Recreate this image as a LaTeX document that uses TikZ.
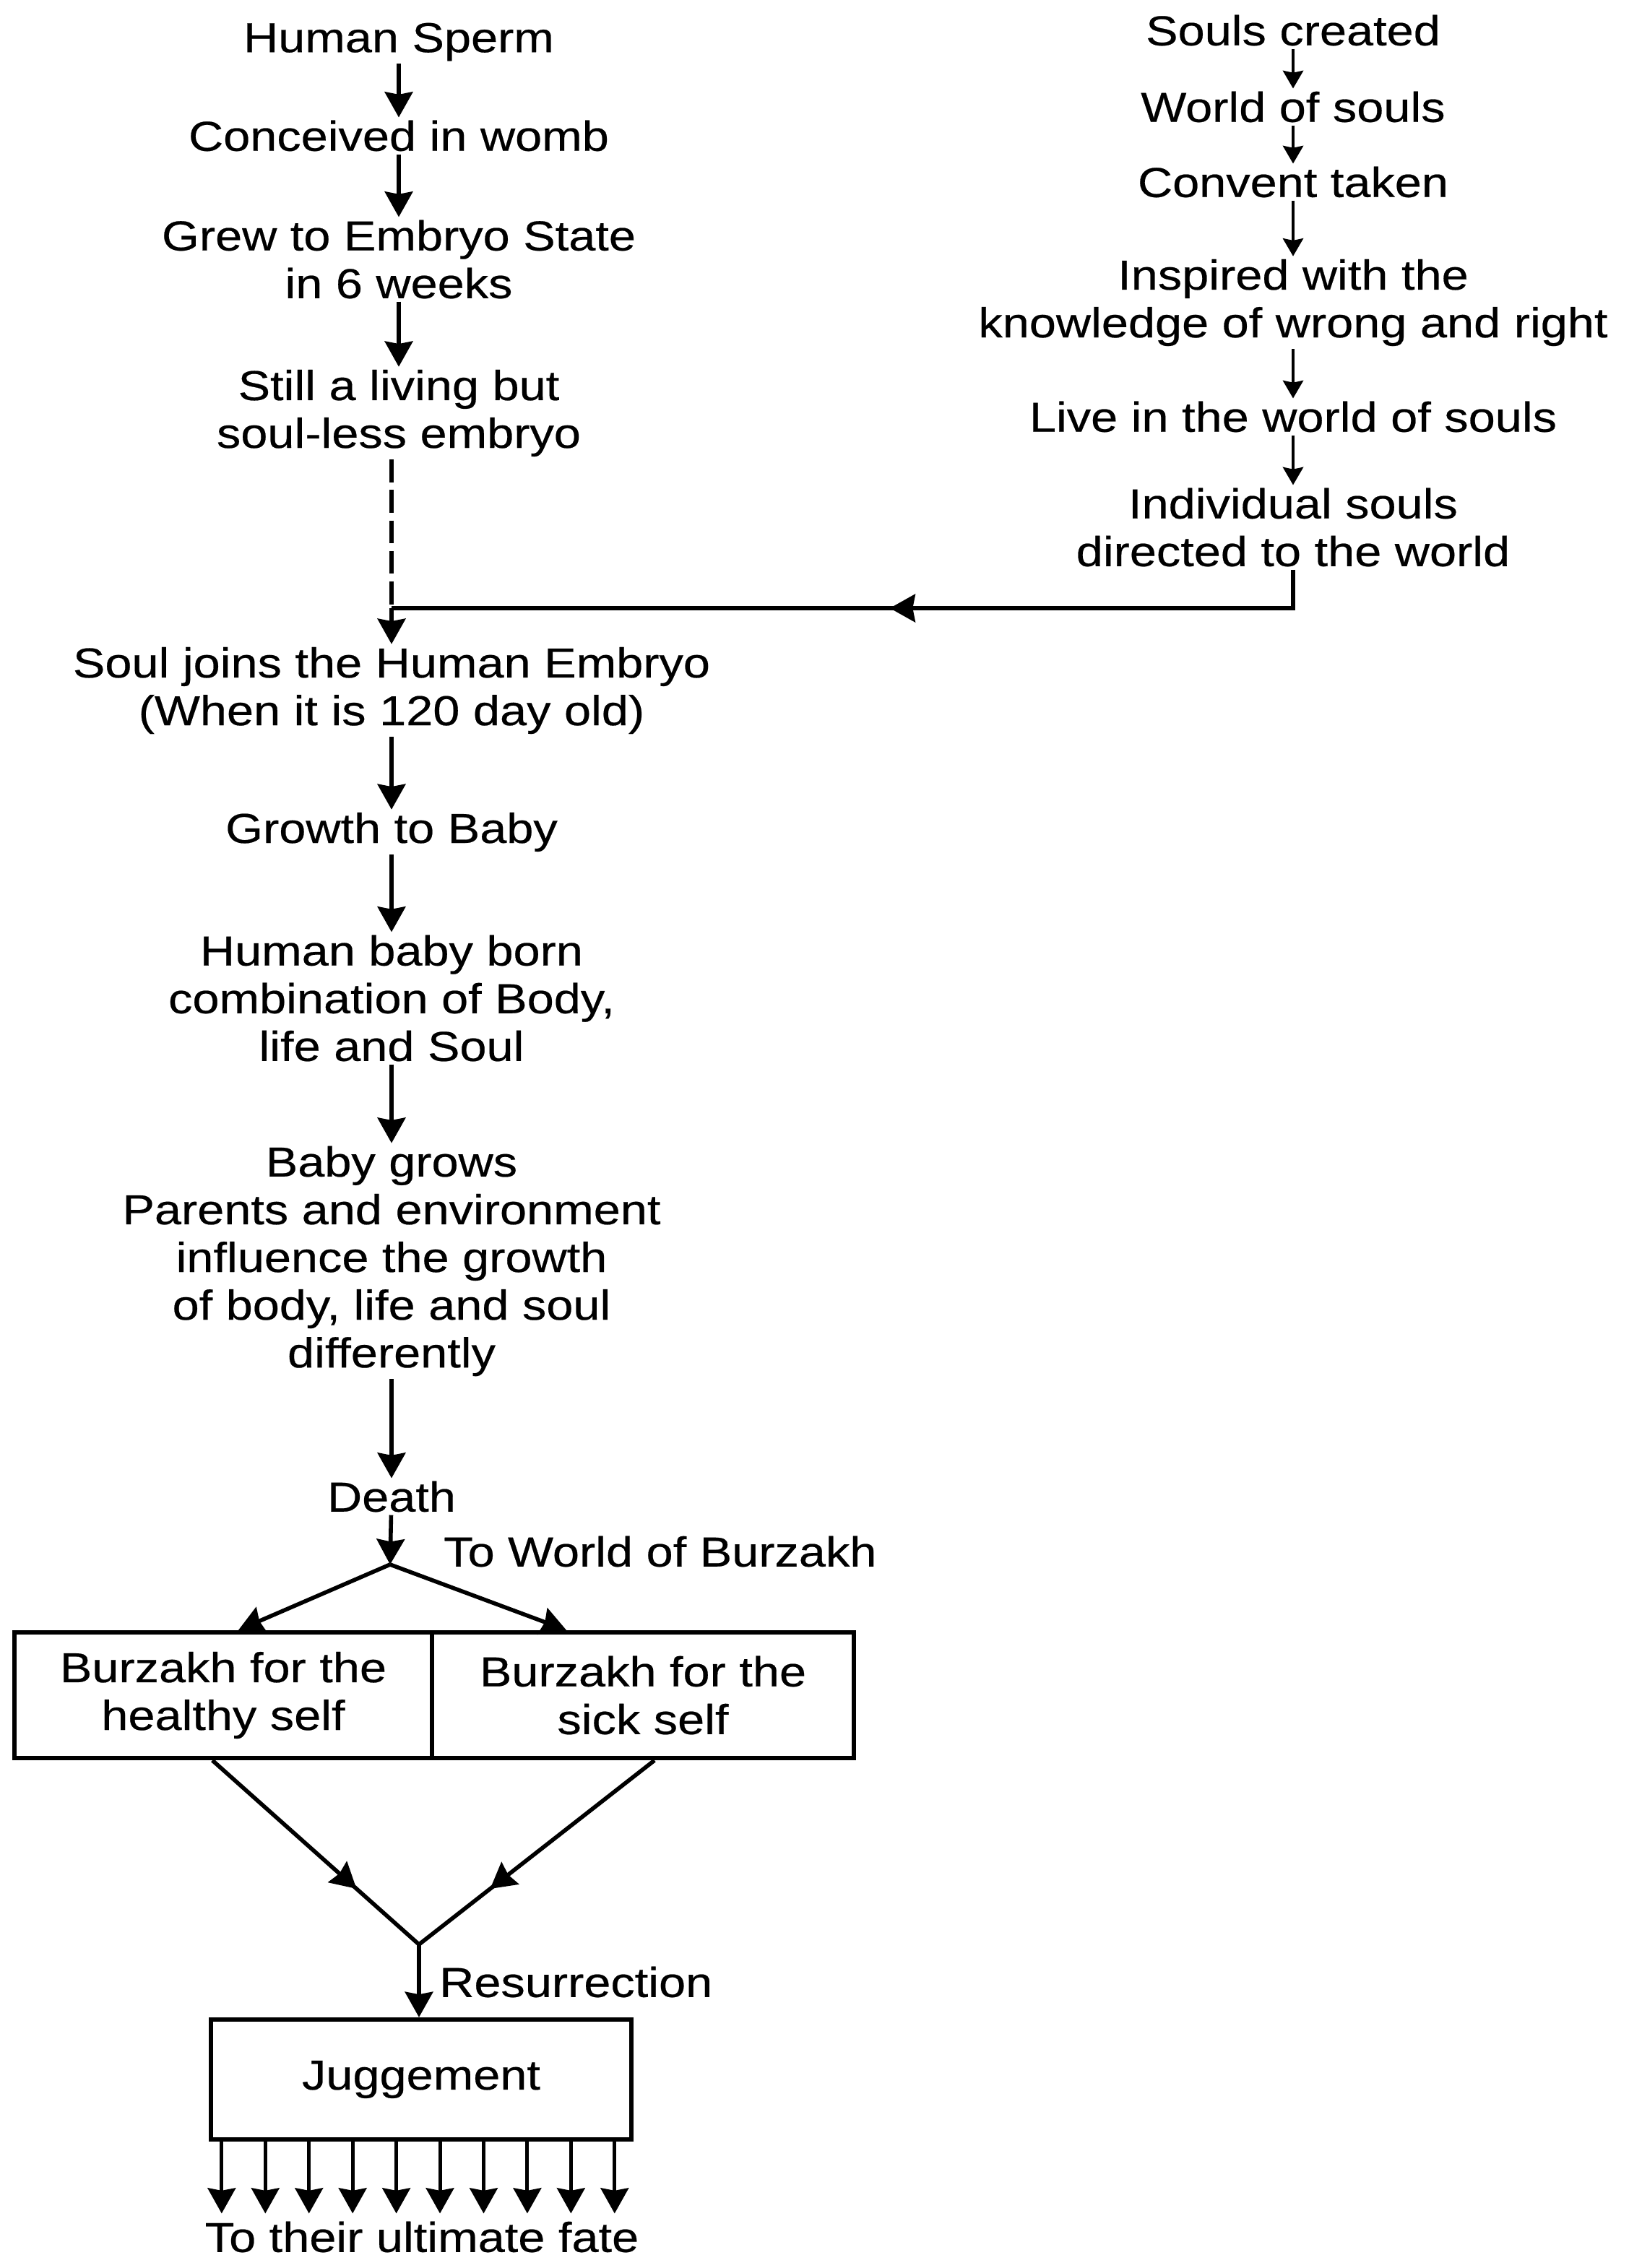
\documentclass[tikz,border=0pt]{standalone}
\usepackage{fontspec}
\setmainfont{Liberation Sans}[FakeStretch=1.15, FakeBold=0.4]
\usetikzlibrary{positioning, arrows.meta, decorations.markings}

\begin{document}
\begin{tikzpicture}[
  txt/.style={align=center, inner sep=1pt, font=\fontsize{16.5}{18.8}\selectfont},
  box/.style={rectangle, draw, line width=1.8pt, align=center, inner sep=0pt,
              font=\fontsize{16.5}{18.8}\selectfont},
  arr/.style={-{Stealth[length=10pt, width=11pt, inset=1pt]}, line width=1.6pt},
  sarr/.style={-{Stealth[length=7pt, width=8pt, inset=0.8pt]}, line width=1.2pt},
  conn/.style={line width=1.6pt},
  midarr/.style={postaction={decorate}, decoration={markings,
                 mark=at position #1 with {\arrow{Stealth[length=10pt, width=11pt, inset=1pt]}}}}
]
  \useasboundingbox (0,0) rectangle (22.55,-31.40);

  \node[txt] (sperm)    at (5.52,-0.58)  {Human Sperm};
  \node[txt] (womb)     at (5.52,-1.88)  {Conceived in womb};
  \node[txt] (embryo)   at (5.52,-3.59)  {Grew to Embryo State\\in 6 weeks};
  \node[txt] (still)    at (5.52,-5.72)  {Still a living but\\soul-less embryo};
  \node[txt] (joins)    at (5.42,-9.56)  {Soul joins the Human Embryo\\(When it is 120 day old)};
  \node[txt] (growth)   at (5.42,-11.52) {Growth to Baby};
  \node[txt] (born)     at (5.42,-13.82) {Human baby born\\combination of Body,\\life and Soul};
  \node[txt] (grows)    at (5.42,-17.46) {Baby grows\\Parents and environment\\influence the growth\\of body, life and soul\\differently};
  \node[txt] (death)    at (5.42,-20.72) {Death};

  \node[txt] (created)  at (17.90,-0.42) {Souls created};
  \node[txt] (souls)    at (17.90,-1.48) {World of souls};
  \node[txt] (convent)  at (17.90,-2.52) {Convent taken};
  \node[txt] (inspired) at (17.90,-4.19) {Inspired with the\\knowledge of wrong and right};
  \node[txt] (live)     at (17.90,-5.77) {Live in the world of souls};
  \node[txt] (directed) at (17.90,-7.30) {Individual souls\\directed to the world};

  \node[box, minimum width=5.78cm, minimum height=1.74cm] (healthy) at (3.09,-23.47) {Burzakh for the\\healthy self};
  \node[box, minimum width=5.84cm, minimum height=1.74cm] (sick)    at (8.90,-23.47) {Burzakh for the\\sick self};
  \node[box, minimum width=5.82cm, minimum height=1.66cm] (judge)   at (5.83,-28.79) {Juggement};
  \node[txt] (fate) at (5.84,-30.97) {To their ultimate fate};

  \node[txt, anchor=west] (tobur) at (6.10,-21.48) {To World of Burzakh};
  \node[txt, anchor=west] (resur) at (6.04,-27.44) {Resurrection};

  \coordinate (meet)  at (5.42,-8.42);
  \coordinate (split) at (5.40,-21.66);
  \coordinate (rise)  at (5.80,-26.92);

  \draw[arr] (sperm) -- (womb);
  \draw[arr] (womb) -- (embryo);
  \draw[arr] (embryo) -- (still);
  \draw[conn, dash pattern=on 9pt off 3pt] (still.south -| meet) -- (meet);
  \draw[arr] (meet) -- (meet |- joins.north);
  \draw[arr] (joins) -- (growth);
  \draw[arr] (growth) -- (born);
  \draw[arr] (born) -- (grows);
  \draw[arr] (grows) -- (death);

  \draw[sarr] (created) -- (souls);
  \draw[sarr] (souls) -- (convent);
  \draw[sarr] (convent) -- (inspired);
  \draw[sarr] (inspired) -- (live);
  \draw[sarr] (live) -- (directed);
  \draw[conn, midarr=0.47] (directed.south) |- (meet);

  \draw[arr] (death) -- (split);
  \draw[arr] (split) -- ([xshift=0.21cm]healthy.north);
  \draw[arr] (split) -- ([xshift=-1.06cm]sick.north);

  \draw[conn, midarr=0.7] ([xshift=-0.15cm]healthy.south) -- (rise);
  \draw[conn, midarr=0.7] ([xshift=0.16cm]sick.south) -- (rise);
  \draw[arr] (rise) -- (rise |- judge.north);

  \foreach \i in {0,...,9} {
    \coordinate (out\i) at ([xshift=0.18cm+\i*0.6044cm]judge.south west);
    \draw[arr, line width=1.4pt, shorten >=2pt] (out\i) -- (out\i |- fate.north);
  }
\end{tikzpicture}
\end{document}
